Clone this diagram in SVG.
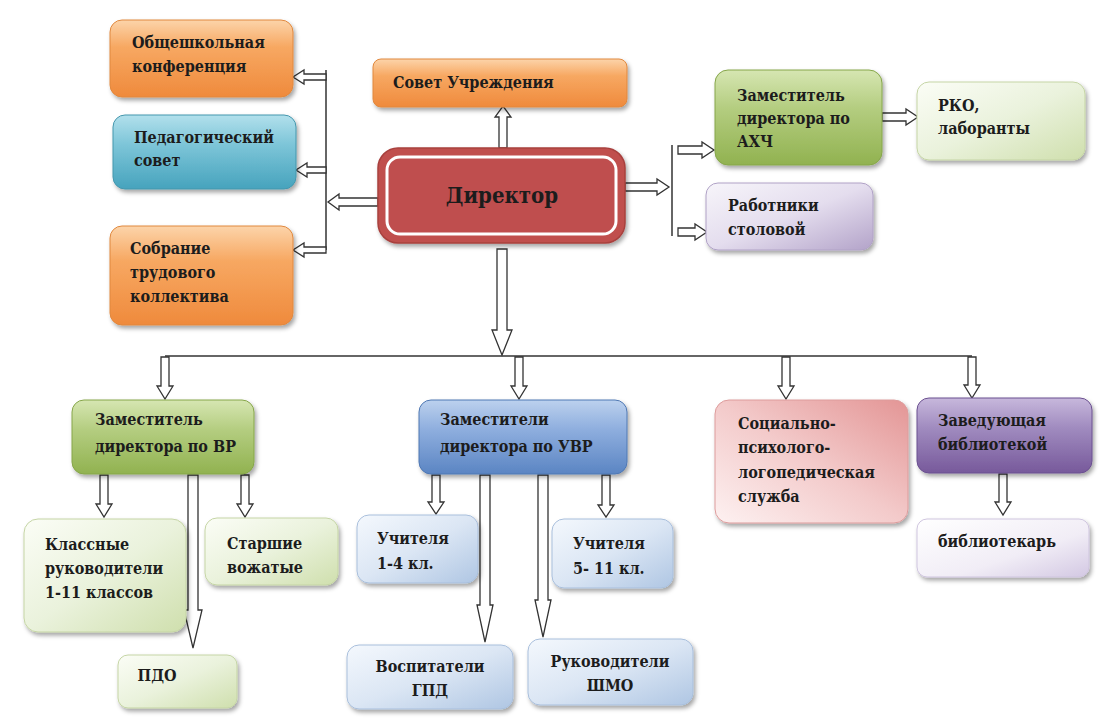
<svg xmlns="http://www.w3.org/2000/svg" width="1100" height="723" viewBox="0 0 1100 723">
<defs>
<filter id="sh" x="-10%" y="-10%" width="130%" height="140%"><feDropShadow dx="2" dy="3" stdDeviation="2" flood-color="#000" flood-opacity="0.35"/></filter>
<linearGradient id="gOrange" x1="0" y1="0" x2="0" y2="1"><stop offset="0" stop-color="#fcd4aa"/><stop offset="0.35" stop-color="#f7a862"/><stop offset="1" stop-color="#ef8a3c"/></linearGradient>
<linearGradient id="gBlue" x1="0" y1="0" x2="0" y2="1"><stop offset="0" stop-color="#b2e0ec"/><stop offset="0.4" stop-color="#7dc5d8"/><stop offset="1" stop-color="#46a3bd"/></linearGradient>
<linearGradient id="gGreen" x1="0" y1="0" x2="0" y2="1"><stop offset="0" stop-color="#d6e6b2"/><stop offset="0.4" stop-color="#b4cd80"/><stop offset="1" stop-color="#91b250"/></linearGradient>
<linearGradient id="gLGreen" x1="0" y1="0" x2="1" y2="1"><stop offset="0" stop-color="#fbfdf6"/><stop offset="0.5" stop-color="#eaf2dc"/><stop offset="1" stop-color="#cfdfad"/></linearGradient>
<linearGradient id="gLav" x1="0" y1="0" x2="1" y2="1"><stop offset="0" stop-color="#f7f5fa"/><stop offset="0.5" stop-color="#e4ddee"/><stop offset="1" stop-color="#b3a3c9"/></linearGradient>
<linearGradient id="gUVR" x1="0" y1="0" x2="0" y2="1"><stop offset="0" stop-color="#bcd1ee"/><stop offset="0.4" stop-color="#8eaede"/><stop offset="1" stop-color="#5b85c3"/></linearGradient>
<linearGradient id="gLBlue" x1="0" y1="0" x2="1" y2="1"><stop offset="0" stop-color="#f4f8fd"/><stop offset="0.5" stop-color="#dbe6f4"/><stop offset="1" stop-color="#afc6e3"/></linearGradient>
<linearGradient id="gPink" x1="0" y1="1" x2="1" y2="0"><stop offset="0" stop-color="#fdf1f1"/><stop offset="0.5" stop-color="#f3caca"/><stop offset="1" stop-color="#e39595"/></linearGradient>
<linearGradient id="gPurple" x1="0" y1="0" x2="0" y2="1"><stop offset="0" stop-color="#c7b8dc"/><stop offset="0.4" stop-color="#a08bbf"/><stop offset="1" stop-color="#77599b"/></linearGradient>
<linearGradient id="gBib" x1="0" y1="0" x2="1" y2="1"><stop offset="0" stop-color="#ffffff"/><stop offset="0.6" stop-color="#f1edf6"/><stop offset="1" stop-color="#d3c8e3"/></linearGradient>
<style>
.t{font-family:"DejaVu Serif","Liberation Serif",serif;font-weight:bold;font-size:16px;font-stretch:condensed;fill:#1c1c1c}
.tc{text-anchor:middle}
.box{filter:url(#sh);stroke-width:1}
.or{fill:url(#gOrange);stroke:#e0883e}
.bl{fill:url(#gBlue);stroke:#4597ad}
.gr{fill:url(#gGreen);stroke:#86a64a}
.lg{fill:url(#gLGreen);stroke:#c5d5a5}
.lv{fill:url(#gLav);stroke:#b0a2c6}
.uv{fill:url(#gUVR);stroke:#4f78b3}
.lb{fill:url(#gLBlue);stroke:#a9bfdc}
.pk{fill:url(#gPink);stroke:#dd9c9c}
.pu{fill:url(#gPurple);stroke:#6b5090}
.bi{fill:url(#gBib);stroke:#cfc5df}
.ar{fill:#fff;stroke:#333;stroke-width:1.3;stroke-linejoin:miter}
.ln{fill:none;stroke:#333;stroke-width:1.5}
</style>
</defs>
<rect width="1100" height="723" fill="#fff"/>

<g id="connectors">
<line class="ln" x1="326" y1="70" x2="326" y2="250"/>
<polygon class="ar" points="326,74 304,74 304,70 293,77 304,84 304,80 326,80"/>
<polygon class="ar" points="326,167 307,167 307,163 296,170 307,177 307,173 326,173"/>
<polygon class="ar" points="326,247 304,247 304,243 293,250 304,257 304,253 326,253"/>
<polygon class="ar" points="378,198 339,198 339,194 328,202 339,210 339,206 378,206"/>
<polygon class="ar" points="499,148 499,117 495,117 503,106 511,117 507,117 507,148"/>
<polygon class="ar" points="625,183 657,183 657,179 669,187 657,195 657,191 625,191"/>
<line class="ln" x1="672" y1="145" x2="672" y2="236"/>
<polygon class="ar" points="678,146 702,146 702,142 714,150 702,158 702,154 678,154"/>
<polygon class="ar" points="678,228 695,228 695,224 707,232 695,240 695,236 678,236"/>
<polygon class="ar" points="882,113 906,113 906,109 918,117 906,125 906,121 882,121"/>
<polygon class="ar" points="497,249 497,330 492,330 502,355 512,330 507,330 507,249"/>
<line class="ln" x1="165" y1="356" x2="972" y2="356"/>
<polygon class="ar" points="161,357 161,386 157,386 165,399 173,386 169,386 169,357"/>
<polygon class="ar" points="515,357 515,386 511,386 519,399 527,386 523,386 523,357"/>
<polygon class="ar" points="782,357 782,386 778,386 786,399 794,386 790,386 790,357"/>
<polygon class="ar" points="968,357 968,385 964,385 972,398 980,385 976,385 976,357"/>
<polygon class="ar" points="100,475 100,504 96,504 104,517 112,504 108,504 108,475"/>
<polygon class="ar" points="188,475 188,610 184,610 193,648 202,610 198,610 198,475"/>
<polygon class="ar" points="241,475 241,504 237,504 245,517 253,504 249,504 249,475"/>
<polygon class="ar" points="432,475 432,502 428,502 436,514 444,502 440,502 440,475"/>
<polygon class="ar" points="480,475 480,605 477,605 485,642 493,605 490,605 490,475"/>
<polygon class="ar" points="538,475 538,600 535,600 543,637 551,600 548,600 548,475"/>
<polygon class="ar" points="602,475 602,505 598,505 606,517 614,505 610,505 610,475"/>
<polygon class="ar" points="999,474 999,502 995,502 1003,515 1011,502 1007,502 1007,474"/>
</g>

<g id="n_konf"><rect class="box or" x="110" y="20" width="183" height="77" rx="12"/><text class="t" x="132" y="48">Общешкольная</text><text class="t" x="132" y="72">конференция</text></g>
<g id="n_pedsovet"><rect class="box bl" x="113" y="115" width="183" height="74" rx="12"/><text class="t" x="134" y="143">Педагогический</text><text class="t" x="134" y="166">совет</text></g>
<g id="n_sobranie"><rect class="box or" x="110" y="226" width="183" height="99" rx="12"/><text class="t" x="130" y="254">Собрание</text><text class="t" x="130" y="278">трудового</text><text class="t" x="130" y="302">коллектива</text></g>
<g id="n_sovet"><rect class="box or" x="373" y="59" width="254" height="48" rx="8"/><text class="t" x="393" y="88">Совет Учреждения</text></g>
<g id="n_director"><rect x="378" y="148" width="247" height="95" rx="20" fill="#c0504d" stroke="#a8403e" stroke-width="1.5" filter="url(#sh)"/><rect x="387" y="157" width="229" height="77" rx="13" fill="#bf4e4e" stroke="#fff" stroke-width="3"/><text class="t tc" x="502" y="203" style="font-size:22px">Директор</text></g>
<g id="n_ahch"><rect class="box gr" x="715" y="70" width="167" height="95" rx="13"/><text class="t" x="737" y="101">Заместитель</text><text class="t" x="737" y="124">директора по</text><text class="t" x="737" y="147">АХЧ</text></g>
<g id="n_rko"><rect class="box lg" x="917" y="82" width="168" height="78" rx="12"/><text class="t" x="938" y="111">РКО,</text><text class="t" x="938" y="134">лаборанты</text></g>
<g id="n_stolovaya"><rect class="box lv" x="706" y="183" width="167" height="67" rx="12"/><text class="t" x="728" y="211">Работники</text><text class="t" x="728" y="235">столовой</text></g>
<g id="n_vr"><rect class="box gr" x="72" y="400" width="182" height="74" rx="12"/><text class="t" x="95" y="425">Заместитель</text><text class="t" x="95" y="452">директора по ВР</text></g>
<g id="n_klass"><rect class="box lg" x="24" y="519" width="162" height="113" rx="14"/><text class="t" x="45" y="550">Классные</text><text class="t" x="45" y="574">руководители</text><text class="t" x="45" y="598">1-11 классов</text></g>
<g id="n_vozh"><rect class="box lg" x="205" y="518" width="133" height="67" rx="12"/><text class="t" x="227" y="549">Старшие</text><text class="t" x="227" y="573">вожатые</text></g>
<g id="n_pdo"><rect class="box lg" x="118" y="655" width="119" height="53" rx="10"/><text class="t tc" x="157" y="681">ПДО</text></g>
<g id="n_uvr"><rect class="box uv" x="419" y="400" width="208" height="74" rx="12"/><text class="t" x="440" y="425">Заместители</text><text class="t" x="440" y="452">директора по УВР</text></g>
<g id="n_uch14"><rect class="box lb" x="357" y="515" width="121" height="68" rx="12"/><text class="t" x="377" y="544">Учителя</text><text class="t" x="377" y="569">1-4 кл.</text></g>
<g id="n_uch511"><rect class="box lb" x="552" y="519" width="121" height="69" rx="12"/><text class="t" x="573" y="549">Учителя</text><text class="t" x="573" y="574">5- 11 кл.</text></g>
<g id="n_gpd"><rect class="box lb" x="347" y="645" width="166" height="64" rx="12"/><text class="t tc" x="430" y="672">Воспитатели</text><text class="t tc" x="430" y="696">ГПД</text></g>
<g id="n_shmo"><rect class="box lb" x="528" y="639" width="165" height="66" rx="12"/><text class="t tc" x="610" y="667">Руководители</text><text class="t tc" x="610" y="691">ШМО</text></g>
<g id="n_soc"><rect class="box pk" x="715" y="400" width="193" height="123" rx="14"/><text class="t" x="738" y="429">Социально-</text><text class="t" x="738" y="453">психолого-</text><text class="t" x="738" y="478">логопедическая</text><text class="t" x="738" y="502">служба</text></g>
<g id="n_zavbib"><rect class="box pu" x="917" y="398" width="175" height="75" rx="12"/><text class="t" x="938" y="426">Заведующая</text><text class="t" x="938" y="450">библиотекой</text></g>
<g id="n_bib"><rect class="box bi" x="917" y="519" width="172" height="58" rx="10"/><text class="t" x="938" y="547">библиотекарь</text></g>
</svg>
